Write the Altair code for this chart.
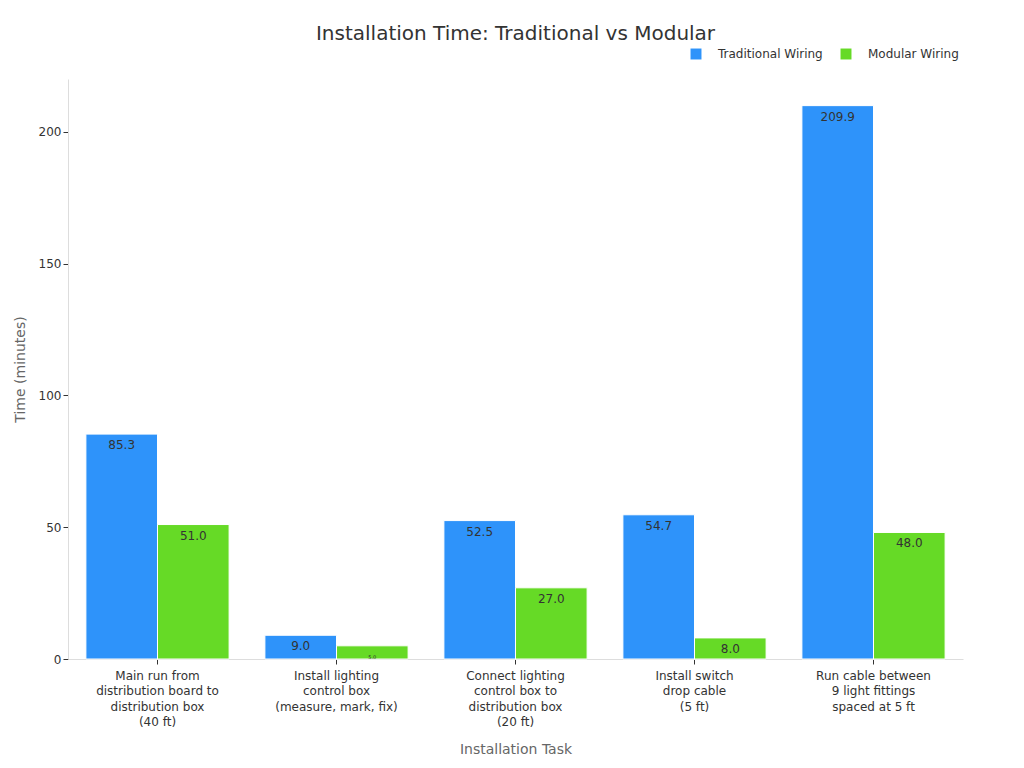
import pandas as pd
import altair as alt

# Tasks (line breaks as in the reference axis labels)
tasks = [
    "Main run from\ndistribution board to\ndistribution box\n(40 ft)",
    "Install lighting\ncontrol box\n(measure, mark, fix)",
    "Connect lighting\ncontrol box to\ndistribution box\n(20 ft)",
    "Install switch\ndrop cable\n(5 ft)",
    "Run cable between\n9 light fittings\nspaced at 5 ft",
]
series = ["Traditional Wiring", "Modular Wiring"]
traditional = [85.3, 9.0, 52.5, 54.7, 209.9]
modular = [51.0, 5.0, 27.0, 8.0, 48.0]

rows = []
for t, a, b in zip(tasks, traditional, modular):
    rows.append({"task": t, "method": series[0], "minutes": a})
    rows.append({"task": t, "method": series[1], "minutes": b})
df = pd.DataFrame(rows)

color_scale = alt.Scale(domain=series, range=["#2E93FA", "#66DA26"])

base = alt.Chart(df).encode(
    x=alt.X(
        "task:N",
        sort=tasks,
        title="Installation Task",
        scale=alt.Scale(paddingInner=0.2, paddingOuter=0.1),
        axis=alt.Axis(
            labelAngle=0,
            labelExpr="split(datum.label, '\\n')",
            labelFontSize=12,
            labelLineHeight=15.5,
            labelPadding=6,
            labelColor="#333",
            labelLimit=300,
            titleFontSize=14,
            titleColor="#666",
            titleFontWeight="normal",
            titlePadding=15,
            domainColor="#ddd",
            tickColor="#333",
            grid=False,
        ),
    ),
    xOffset=alt.XOffset("method:N", sort=series),
    y=alt.Y(
        "minutes:Q",
        title="Time (minutes)",
        scale=alt.Scale(domain=[0, 220], nice=False),
        axis=alt.Axis(
            values=[0, 50, 100, 150, 200],
            labelFontSize=12,
            labelColor="#333",
            titleFontSize=14,
            titleColor="#666",
            titleFontWeight="normal",
            titlePadding=11,
            domainColor="#ddd",
            tickColor="#333",
            grid=False,
        ),
    ),
)

bars = base.mark_bar(stroke="white", strokeWidth=1).encode(
    color=alt.Color(
        "method:N",
        scale=color_scale,
        sort=series,
        legend=alt.Legend(
            title=None,
            orient="none",
            direction="horizontal",
            legendX=622,
            legendY=-31,
            symbolType="square",
            symbolSize=120,
            symbolStrokeWidth=0,
            labelFontSize=12,
            labelColor="#333",
            labelOffset=16,
            columnPadding=17,
        ),
    )
)

labels = base.mark_text(baseline="middle", dy=11, color="#333").encode(
    text=alt.Text("minutes:Q", format=".1f"),
    size=alt.condition(alt.datum.minutes < 6, alt.value(5), alt.value(12)),
)

chart = (
    alt.layer(bars, labels)
    .properties(
        width=895,
        height=580,
        padding={"top": 16, "left": 5, "right": 5, "bottom": 5},
        title=alt.Title(
            "Installation Time: Traditional vs Modular",
            fontSize=20,
            fontWeight="normal",
            color="#333",
            offset=4,
        ),
    )
    .configure(font="DejaVu Sans")
    .configure_view(stroke=None)
)

chart.save("out.html", embed_options={"renderer": "svg", "actions": False})
